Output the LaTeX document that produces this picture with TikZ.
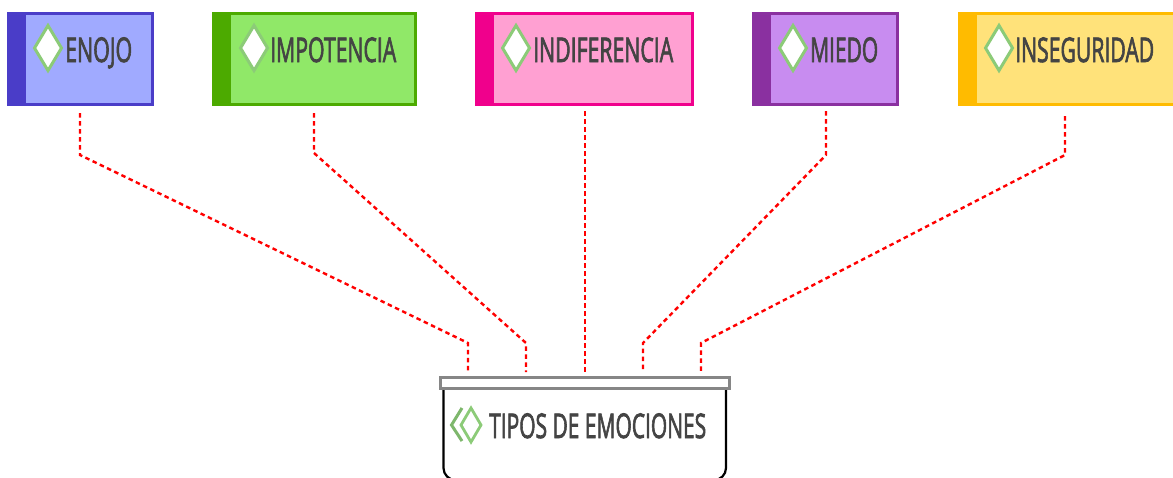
\documentclass[tikz,border=0pt]{standalone}
\usepackage{fontspec}
\setmainfont[FakeBold=2.6]{Open Sans}
\usetikzlibrary{shapes.geometric}
\definecolor{ink}{HTML}{444444}
\definecolor{gemgreen}{HTML}{8CCB78}
\definecolor{cA}{HTML}{4A3DC8}\definecolor{fA}{HTML}{A0AAFF}
\definecolor{cB}{HTML}{4CAA00}\definecolor{fB}{HTML}{90E868}
\definecolor{cC}{HTML}{F0008C}\definecolor{fC}{HTML}{FFA0D2}
\definecolor{cD}{HTML}{8A30A0}\definecolor{fD}{HTML}{C88CF0}
\definecolor{cE}{HTML}{FFBB00}\definecolor{fE}{HTML}{FFE27A}
\newcommand{\fitlabel}[2]{\resizebox{#1pt}{\height}{\fontsize{34}{34}\selectfont #2}}
\tikzset{
  x=1pt,y=-1pt,
  catbox/.style={rectangle,draw=#1,line width=2.6pt,inner sep=0pt,outer sep=0pt,anchor=north west,minimum height=91.4pt},
  strip/.style={fill=#1,draw=none},
  gem/.style={diamond,fill=white,draw=gemgreen,line width=3pt,inner sep=0pt,outer sep=0pt,minimum width=27pt,minimum height=45pt},
  lab/.style={anchor=base west,inner sep=0pt,text=ink},
  link/.style={draw=red,line width=2.4pt,dash pattern=on 4.5pt off 3.5pt}
}
\begin{document}
\begin{tikzpicture}
\useasboundingbox (0,0) rectangle (1173,477);
% category boxes
\node[catbox=cA,fill=fA,minimum width=144.4pt] (enojo) at (8.3,13.3) {};
\node[catbox=cB,fill=fB,minimum width=202.4pt] (impotencia) at (213.3,13.3) {};
\node[catbox=cC,fill=fC,minimum width=216.4pt] (indiferencia) at (476.3,13.3) {};
\node[catbox=cD,fill=fD,minimum width=144.4pt] (miedo) at (753.3,13.3) {};
\node[catbox=cE,fill=fE,minimum width=220pt] (inseguridad) at (959.3,13.3) {};
% side strips
\fill[strip=cA] (7,12) rectangle (26,106);
\fill[strip=cB] (212,12) rectangle (231,106);
\fill[strip=cC] (475,12) rectangle (494,106);
\fill[strip=cD] (752,12) rectangle (771,106);
\fill[strip=cE] (958,12) rectangle (977,106);
% gems
\node[gem] (gemA) at (48,48) {};
\node[gem] (gemB) at (254,48) {};
\node[gem] (gemC) at (516,48) {};
\node[gem] (gemD) at (793,48) {};
\node[gem] (gemE) at (999,48) {};
% labels
\node[lab] (labA) at (65,62) {\fitlabel{67}{ENOJO}};
\node[lab] (labB) at (270,62) {\fitlabel{126}{IMPOTENCIA}};
\node[lab] (labC) at (533,62) {\fitlabel{140}{INDIFERENCIA}};
\node[lab] (labD) at (810,62) {\fitlabel{68}{MIEDO}};
\node[lab] (labE) at (1015,62) {\fitlabel{139}{INSEGURIDAD}};
% target container
\draw[black,line width=2.2pt,rounded corners=12pt] (443.5,385) -- (443.5,480) -- (726,480) -- (726,385);
\node[rectangle,draw=gray!95,fill=white,line width=3pt,inner sep=0pt,outer sep=0pt,anchor=north west,minimum width=289pt,minimum height=11pt] (lid) at (440.5,377.5) {};
% title icon
\draw[line width=3pt,draw=gemgreen!90!black] (462,408) -- (451.5,425) -- (462,441);
\node[diamond,draw=gemgreen,line width=2.8pt,inner sep=0pt,outer sep=0pt,minimum width=20pt,minimum height=34pt] (gemT) at (471,425) {};
\node[lab] (title) at (489,438) {\fitlabel{217}{TIPOS DE EMOCIONES}};
% connector ports
\coordinate (sA) at (80,113);
\coordinate (sB) at (314,113);
\coordinate (sC) at (585,111);
\coordinate (sD) at (826,111);
\coordinate (sE) at (1065,116);
\coordinate (eA) at (468,372);
\coordinate (eB) at (526,372);
\coordinate (eC) at (585,372);
\coordinate (eD) at (643,372);
\coordinate (eE) at (701,372);
\draw[link] (sA) -- (80,155) -- (468,343) -- (eA);
\draw[link] (sB) -- (314,153) -- (526,343) -- (eB);
\draw[link] (sC) -- (eC);
\draw[link] (sD) -- (826,155) -- (643,343) -- (eD);
\draw[link] (sE) -- (1065,155) -- (701,343) -- (eE);
\end{tikzpicture}
\end{document}
